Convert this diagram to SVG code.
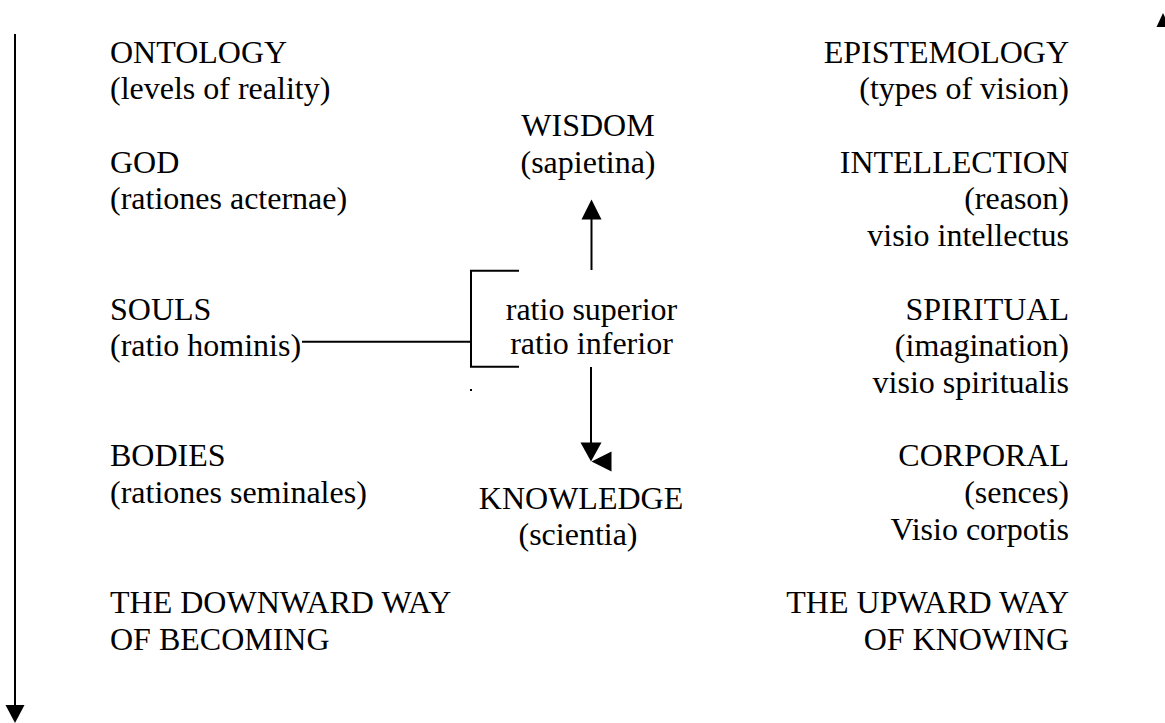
<svg xmlns="http://www.w3.org/2000/svg" width="1165" height="723" viewBox="0 0 1165 723">
<style>
text{font-family:"Liberation Serif","Times New Roman",serif;font-size:32px;fill:#000}
.r{text-anchor:end}
.m{text-anchor:middle}
.ln{stroke:#000;stroke-width:2;fill:none}
.ah{fill:#000;stroke:none}
</style>
<rect width="1165" height="723" fill="#fff"/>
<g id="connectors">
<line class="ln" x1="15" y1="34" x2="15" y2="706"/>
<polygon class="ah" points="5.5,705 24.5,705 15,723"/>
<polygon class="ah" points="1156.5,27 1163,13 1169.5,27"/>
<line class="ln" x1="591.5" y1="270" x2="591.5" y2="218"/>
<polygon class="ah" points="581.5,219.5 601.5,219.5 591.5,199.5"/>
<line class="ln" x1="591" y1="367" x2="591" y2="444"/>
<polygon class="ah" points="580.5,442.5 601.5,442.5 591,461.5"/>
<polygon class="ah" points="591.5,461.5 611.5,451.5 611.5,471.5"/>
<polyline class="ln" points="519,270.7 471,270.7 471,366.7 519,366.7"/>
<line class="ln" x1="302" y1="341.7" x2="471" y2="341.7"/>
<rect class="ah" x="470" y="389" width="2" height="2"/>
</g>
<g id="ontology"><text x="110" y="62.5">ONTOLOGY</text><text x="110" y="99.2">(levels of reality)</text></g>
<g id="epistemology"><text class="r" x="1069" y="62.5">EPISTEMOLOGY</text><text class="r" x="1069" y="99.2">(types of vision)</text></g>
<g id="wisdom"><text class="m" x="588" y="135.9">WISDOM</text><text class="m" x="588" y="172.7">(sapietina)</text></g>
<g id="god"><text x="110" y="172.7">GOD</text><text x="110" y="209.4">(rationes acternae)</text></g>
<g id="intellection"><text class="r" x="1069" y="172.7">INTELLECTION</text><text class="r" x="1069" y="209.4">(reason)</text><text class="r" x="1069" y="246.1">visio intellectus</text></g>
<g id="souls"><text x="110" y="319.5">SOULS</text><text x="110" y="356.3">(ratio hominis)</text></g>
<g id="ratio"><text class="m" x="591.5" y="319.5">ratio superior</text><text class="m" x="591.5" y="354">ratio inferior</text></g>
<g id="spiritual"><text class="r" x="1069" y="319.5">SPIRITUAL</text><text class="r" x="1069" y="356.3">(imagination)</text><text class="r" x="1069" y="393">visio spiritualis</text></g>
<g id="bodies"><text x="110" y="466.4">BODIES</text><text x="110" y="503.1">(rationes seminales)</text></g>
<g id="knowledge"><text class="m" x="581" y="509">KNOWLEDGE</text><text class="m" x="578" y="545">(scientia)</text></g>
<g id="corporal"><text class="r" x="1069" y="466.4">CORPORAL</text><text class="r" x="1069" y="503.1">(sences)</text><text class="r" x="1069" y="539.9">Visio corpotis</text></g>
<g id="downward"><text x="110" y="613.3">THE DOWNWARD WAY</text><text x="110" y="650">OF BECOMING</text></g>
<g id="upward"><text class="r" x="1069" y="613.3">THE UPWARD WAY</text><text class="r" x="1069" y="650">OF KNOWING</text></g>
</svg>
